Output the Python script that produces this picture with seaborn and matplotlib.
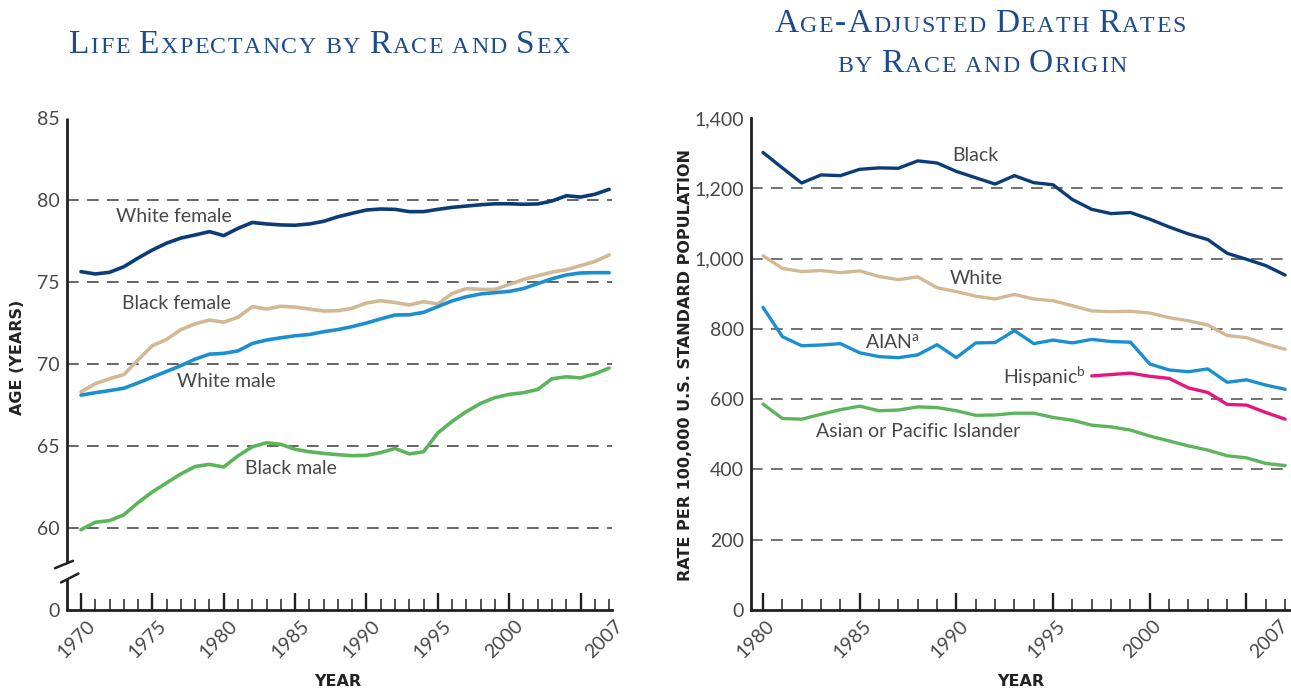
import matplotlib
matplotlib.use("Agg")
import matplotlib.pyplot as plt
from matplotlib.transforms import ScaledTranslation
import seaborn as sns
import pandas as pd

# ---------------- data ----------------
years_le = list(range(1970, 2008))
white_female = [75.63, 75.49, 75.59, 75.93, 76.46, 76.95, 77.37, 77.68, 77.87, 78.07,
                77.83, 78.27, 78.63, 78.54, 78.48, 78.46, 78.54, 78.70, 78.98, 79.19,
                79.39, 79.45, 79.43, 79.29, 79.29, 79.43, 79.55, 79.63, 79.71, 79.77,
                79.77, 79.74, 79.76, 79.94, 80.26, 80.18, 80.35, 80.65]
black_female = [68.30, 68.80, 69.10, 69.35, 70.25, 71.12, 71.50, 72.10, 72.45, 72.68,
                72.55, 72.85, 73.50, 73.35, 73.52, 73.47, 73.35, 73.23, 73.25, 73.40,
                73.72, 73.86, 73.75, 73.60, 73.80, 73.66, 74.30, 74.60, 74.55, 74.55,
                74.85, 75.15, 75.38, 75.60, 75.75, 76.00, 76.25, 76.65]
white_male = [68.10, 68.25, 68.38, 68.52, 68.85, 69.20, 69.55, 69.90, 70.30, 70.60,
              70.65, 70.80, 71.25, 71.46, 71.60, 71.72, 71.80, 71.97, 72.10, 72.28,
              72.50, 72.75, 72.99, 73.00, 73.15, 73.50, 73.85, 74.10, 74.27, 74.35,
              74.43, 74.60, 74.90, 75.20, 75.43, 75.55, 75.57, 75.57]
black_male = [59.90, 60.35, 60.45, 60.80, 61.55, 62.20, 62.75, 63.30, 63.75, 63.88,
              63.72, 64.40, 64.95, 65.20, 65.10, 64.80, 64.65, 64.55, 64.47, 64.41,
              64.43, 64.60, 64.85, 64.52, 64.65, 65.80, 66.50, 67.10, 67.60, 67.95,
              68.15, 68.25, 68.45, 69.10, 69.22, 69.15, 69.40, 69.75]

years_dr = list(range(1980, 2008))
black_rate = [1302, 1258, 1215, 1238, 1236, 1254, 1258, 1257, 1278, 1272,
              1248, 1230, 1212, 1236, 1216, 1210, 1168, 1140, 1128, 1131,
              1112, 1090, 1070, 1054, 1015, 998, 980, 953]
white_rate = [1008, 972, 963, 966, 960, 965, 949, 940, 948, 917,
              906, 893, 885, 898, 885, 880, 866, 851, 849, 850,
              845, 832, 823, 811, 781, 775, 757, 742]
aian_rate = [861, 778, 752, 754, 758, 732, 721, 718, 726, 755,
             718, 760, 761, 795, 758, 768, 760, 770, 764, 762,
             700, 683, 678, 686, 648, 655, 640, 628]
years_hisp = list(range(1997, 2008))
hisp_rate = [666, 670, 674, 665, 659, 632, 619, 585, 583, 562, 543]
api_rate = [586, 545, 543, 557, 570, 580, 567, 569, 578, 576,
            567, 554, 555, 560, 560, 548, 540, 526, 521, 512,
            495, 481, 467, 455, 439, 433, 417, 411]

le_ticks = [1970, 1975, 1980, 1985, 1990, 1995, 2000, 2005, 2007]
le_ticklabels = ["1970", "1975", "1980", "1985", "1990", "1995", "2000", "", "2007"]
le_yticks = [55, 60, 65, 70, 75, 80, 85]
le_yticklabels = ["0", "60", "65", "70", "75", "80", "85"]
le_grid = [60, 65, 70, 75, 80]

dr_ticks = [1980, 1985, 1990, 1995, 2000, 2005, 2007]
dr_ticklabels = ["1980", "1985", "1990", "1995", "2000", "", "2007"]
dr_yticks = [0, 200, 400, 600, 800, 1000, 1200, 1400]
dr_yticklabels = ["0", "200", "400", "600", "800", "1,000", "1,200", "1,400"]
dr_grid = [200, 400, 600, 800, 1000, 1200]

NAVY = "#0c3c78"
TAN = "#d3b894"
BLUE = "#1b8fd0"
GREEN = "#5db55b"
MAGENTA = "#e5177f"
TITLE = "#1d4b8f"
TXT = "#484848"
AX = "#231f20"

# ---------------- style ----------------
sns.set_theme(style="white")
plt.rcParams["font.family"] = ["Lato", "DejaVu Sans"]
plt.rcParams["mathtext.fontset"] = "custom"
plt.rcParams["mathtext.rm"] = "Lato"
plt.rcParams["lines.solid_joinstyle"] = "round"

W, H = 1291, 690
fig = plt.figure(figsize=(W / 100, H / 100), dpi=100)
fig.patch.set_facecolor("white")

axL = fig.add_axes([67 / W, 80 / H, 545 / W, 492 / H])
axR = fig.add_axes([751 / W, 80 / H, 539 / W, 492 / H])

df_le = pd.concat([
    pd.DataFrame({"Year": years_le, "Value": white_female, "Series": "White female"}),
    pd.DataFrame({"Year": years_le, "Value": black_female, "Series": "Black female"}),
    pd.DataFrame({"Year": years_le, "Value": white_male, "Series": "White male"}),
    pd.DataFrame({"Year": years_le, "Value": black_male, "Series": "Black male"}),
])
df_dr = pd.concat([
    pd.DataFrame({"Year": years_dr, "Value": black_rate, "Series": "Black"}),
    pd.DataFrame({"Year": years_dr, "Value": white_rate, "Series": "White"}),
    pd.DataFrame({"Year": years_dr, "Value": aian_rate, "Series": "AIAN"}),
    pd.DataFrame({"Year": years_hisp, "Value": hisp_rate, "Series": "Hispanic"}),
    pd.DataFrame({"Year": years_dr, "Value": api_rate, "Series": "API"}),
])

pal_le = {"White female": NAVY, "Black female": TAN, "White male": BLUE, "Black male": GREEN}
pal_dr = {"Black": NAVY, "White": TAN, "AIAN": BLUE, "Hispanic": MAGENTA, "API": GREEN}

for v in le_grid:
    axL.axhline(v, color="#4a4a4a", lw=1.2, ls=(0, (7, 5)), zorder=1)
for v in dr_grid:
    axR.axhline(v, color="#5a5a5a", lw=1.2, ls=(0, (7, 5)), zorder=1)

sns.lineplot(data=df_le, x="Year", y="Value", hue="Series", palette=pal_le,
             linewidth=2.6, legend=False, ax=axL, zorder=3)
sns.lineplot(data=df_dr, x="Year", y="Value", hue="Series", palette=pal_dr,
             linewidth=2.4, legend=False, ax=axR, zorder=3)

axL.set_xlim(1969.02, 2007.2)
axL.set_ylim(55, 85)
axR.set_xlim(1979.38, 2007.25)
axR.set_ylim(0, 1400)


def style_axis(ax, ticks, ticklabels, yticks, yticklabels, first, last, top, shift, last_shift):
    ax.set_facecolor("white")
    for s in ["top", "right"]:
        ax.spines[s].set_visible(False)
    ax.spines["bottom"].set_color(AX)
    ax.spines["bottom"].set_linewidth(2.0)
    ax.spines["left"].set_color(AX)
    ax.spines["left"].set_linewidth(2.0)
    ax.set_xticks(ticks)
    ax.set_xticklabels(ticklabels)
    ax.set_xticks(list(range(first, last + 1)), minor=True)
    ax.tick_params(axis="x", which="major", direction="in", length=12, width=1.7,
                   color=AX, bottom=True, labelsize=14, labelcolor=TXT, pad=5)
    ax.tick_params(axis="x", which="minor", direction="in", length=8, width=1.1,
                   color=AX, bottom=True)
    ax.xaxis.get_major_ticks()[-1].tick1line.set_markersize(8)
    ax.xaxis.get_major_ticks()[-1].tick1line.set_markeredgewidth(1.1)
    ax.set_yticks(yticks)
    ax.set_yticklabels(yticklabels)
    ax.set_yticks([top], minor=True)
    ax.tick_params(axis="y", which="major", length=0, labelsize=14, labelcolor=TXT, pad=5)
    ax.tick_params(axis="y", which="minor", direction="in", length=12, width=2.0,
                   color=AX, left=True)
    lbls = ax.get_xticklabels()
    for i, lbl in enumerate(lbls):
        lbl.set_rotation(45)
        lbl.set_ha("right")
        lbl.set_va("top")
        lbl.set_rotation_mode("anchor")
        dx = last_shift if i == len(lbls) - 1 else shift
        lbl.set_transform(lbl.get_transform() + ScaledTranslation(dx / 100, 0, fig.dpi_scale_trans))
    ax.set_xlabel("")
    ax.set_ylabel("")


style_axis(axL, le_ticks, le_ticklabels, le_yticks, le_yticklabels, 1970, 2007, 85, 5, 5)
style_axis(axR, dr_ticks, dr_ticklabels, dr_yticks, dr_yticklabels, 1980, 2007, 1400, 3, -6)

# broken y axis on the left chart
axL.spines["left"].set_visible(False)
tr = axL.transAxes
axL.plot([0, 0], [1.0, 0.0955], color=AX, lw=2.0, transform=tr, clip_on=False, zorder=4,
         solid_capstyle="butt")
axL.plot([0, 0], [0.063, 0.0], color=AX, lw=2.0, transform=tr, clip_on=False, zorder=4,
         solid_capstyle="butt")
axL.plot([-0.022, 0.011], [0.0850, 0.1000], color=AX, lw=1.8, transform=tr, clip_on=False, zorder=4)
axL.plot([-0.011, 0.021], [0.0560, 0.0740], color=AX, lw=1.8, transform=tr, clip_on=False, zorder=4)

# series labels
lab = dict(fontsize=14, color=TXT, va="center", zorder=5)
axL.text(1976.5, 78.98, "White female", ha="center", **lab)
axL.text(1976.66, 73.66, "Black female", ha="center", **lab)
axL.text(1980.16, 68.96, "White male", ha="center", **lab)
axL.text(1984.72, 63.6, "Black male", ha="center", **lab)

axR.text(1990.97, 1294, "Black", ha="center", **lab)
axR.text(1991.0, 944, "White", ha="center", **lab)
axR.text(1985.28, 762, "AIAN$^{\\mathrm{a}}$", ha="left", **lab)
axR.text(1992.42, 663, "Hispanic$^{\\mathrm{b}}$", ha="left", **lab)
axR.text(1988.02, 509, "Asian or Pacific Islander", ha="center", **lab)

# axis titles
bold = dict(fontsize=11.5, fontweight="bold", color="#222222", family="DejaVu Sans",
            ha="center", va="center")
fig.text(18 / W, 1 - 357 / H, "AGE (YEARS)", rotation=90, **bold)
fig.text(686 / W, 1 - 365 / H, "RATE PER 100,000 U.S. STANDARD POPULATION", rotation=90, **bold)
fig.text(338 / W, 1 - 681 / H, "YEAR", **bold)
fig.text(1021 / W, 1 - 681 / H, "YEAR", **bold)


# small-caps titles with letter spacing
def smallcaps(text, cx, base_y, big=24.0, small=17.2, track=1.5,
              family="Liberation Serif", color=TITLE):
    chars = []
    for ch in text:
        if ch.isalpha() and ch.islower():
            chars.append((ch.upper(), small))
        elif ch == " ":
            chars.append((ch, small))
        else:
            chars.append((ch, big))
    r = fig.canvas.get_renderer()
    cache = {}

    def width(s, sz):
        key = (s, sz)
        if key not in cache:
            t = fig.text(0, 0, "|" + s + "|", fontsize=sz, family=family)
            a = t.get_window_extent(r).width
            t.set_text("||")
            b = t.get_window_extent(r).width
            t.remove()
            cache[key] = a - b
        return cache[key]

    widths = [width(c, sz) + track for c, sz in chars]
    total = sum(widths) - track
    x = cx - total / 2
    for (c, sz), wd in zip(chars, widths):
        if c != " ":
            fig.text(x / W, 1 - base_y / H, c, fontsize=sz, family=family, color=color,
                     ha="left", va="baseline")
        x += wd


smallcaps("Life Expectancy by Race and Sex", 319, 53.3)
smallcaps("Age-Adjusted Death Rates", 980, 31.7)
smallcaps("by Race and Origin", 982, 71.7)

fig.savefig("out.png", dpi=100, facecolor="white")
